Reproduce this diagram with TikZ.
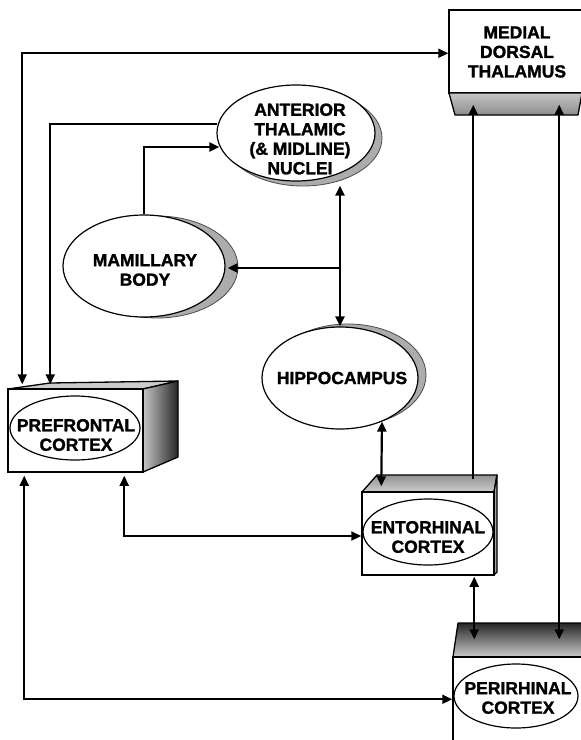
\documentclass[tikz,border=0pt]{standalone}
\usepackage{fontspec}
\setmainfont{Liberation Sans}[BoldFeatures={FakeBold=1.5}]
\usetikzlibrary{arrows.meta,shapes.geometric,calc}
\begin{document}
\begin{tikzpicture}[x=1pt,y=-1pt, >={Triangle[length=10pt,width=9pt]},
  lbl/.style={font=\bfseries\fontsize{17.5}{19.5}\selectfont, align=center, inner sep=0pt},
  oval/.style={ellipse, draw=black, line width=1.2pt, fill=white, inner sep=0pt},
  ovalshadow/.style={ellipse, draw=black!70, line width=0.8pt, fill=gray!65, inner sep=0pt},
  boxface/.style={rectangle, draw=black, line width=1.5pt, fill=white, inner sep=0pt},
  facedge/.style={draw=black, line width=1.3pt, line join=round},
  conn/.style={line width=2.2pt},
  uni/.style={conn,->},
  bi/.style={conn,<->}]
\useasboundingbox (0,0) rectangle (581,740);
\fill[white] (0,0) rectangle (581,740);
\clip (0,0) rectangle (581,740);

% medial dorsal thalamus
\node[boxface, minimum width=133pt, minimum height=83pt] (mdt) at (515.5,51.5) {};
\node[lbl] (mdtT) at (517,52) {MEDIAL\\DORSAL\\THALAMUS};
\path[facedge, top color=gray!45, bottom color=gray!90] (449,93) -- (582,93) -- (578,115) -- (455,115) -- cycle;

% prefrontal cortex
\path[facedge, fill=gray!40] (8,389) -- (50,383) -- (178,381) -- (143,389) -- cycle;
\path[facedge, left color=gray!45, right color=black!85] (143,389) -- (178,381) -- (178,457) -- (143,472) -- cycle;
\node[boxface, minimum width=135pt, minimum height=83pt] (pfc) at (75.5,430.5) {};
\node[oval, minimum width=130pt, minimum height=64pt] (pfcE) at (75,428) {};
\node[lbl] (pfcT) at (76,435) {PREFRONTAL\\CORTEX};

% entorhinal cortex
\path[facedge, top color=gray!85, bottom color=gray!40] (362,492) -- (377,475) -- (497,475) -- (494,492) -- cycle;
\path[facedge, fill=gray!70] (494,492) -- (497,475) -- (497,572) -- (494,575) -- cycle;
\node[boxface, minimum width=132pt, minimum height=83pt] (ent) at (428,533.5) {};
\node[oval, minimum width=130pt, minimum height=66pt] (entE) at (428,532) {};
\node[lbl] (entT) at (428,537) {ENTORHINAL\\CORTEX};

% perirhinal cortex
\path[facedge, top color=black!85, bottom color=gray!40] (453,657) -- (458,623) -- (585,623) -- (585,657) -- cycle;
\node[boxface, minimum width=132pt, minimum height=103pt] (per) at (519,708.5) {};
\node[oval, minimum width=124pt, minimum height=64pt] (perE) at (516,696) {};
\node[lbl] (perT) at (518,698) {PERIRHINAL\\CORTEX};

% anterior thalamic nuclei
\node[ovalshadow, minimum width=158pt, minimum height=96pt] (atnS) at (303,138) {};
\node[oval, minimum width=158pt, minimum height=96pt] (atn) at (296,133) {};
\node[lbl] (atnT) at (300,139) {ANTERIOR\\THALAMIC\\(\& MIDLINE)\\NUCLEI};

% mamillary body
\node[ovalshadow, minimum width=162pt, minimum height=102pt] (mamS) at (157,267) {};
\node[oval, minimum width=162pt, minimum height=102pt] (mam) at (144,266) {};
\node[lbl] (mamT) at (145,270) {MAMILLARY\\BODY};

% hippocampus
\node[ovalshadow, minimum width=156pt, minimum height=102pt] (hipS) at (348,375) {};
\node[oval, minimum width=156pt, minimum height=102pt] (hip) at (340,378) {};
\node[lbl] (hipT) at (342,378) {HIPPOCAMPUS};

% connectors
\draw[bi] ($(pfc.north west)+(15,-4)$) |- ($(mdt.north west)+(0,44)$);
\draw[uni] ($(atn.west)+(1,-9)$) -| ($(pfc.north west)+(43,-4)$);
\draw[uni] (mam.north) |- ($(atn.west)+(3,14)$);
\draw[bi] ($(hip.north |- atn.south)+(0,4)$) -- (hip.north);
\draw[uni] (hip.north |- 0,268) -- ($(mam.east)+(2,2)$);
\draw[bi] ($(pfc.south west)+(117,3)$) |- ($(ent.west)+(0,2.5)$);
\draw[bi] ($(hip.south)+(42,-8)$) -- ($(ent.north west)+(20,-5)$);
\draw[uni] ($(ent.north west)+(112,-12)$) -- ($(mdt.south west)+(25,11)$);
\draw[bi] ($(per.north west)+(107,-17)$) -- ($(mdt.south west)+(111,11)$);
\draw[bi] ($(ent.south west)+(113,1)$) -- ($(per.north west)+(22,-17)$);
\draw[bi] ($(pfc.south west)+(17,3)$) |- ($(per.north west)+(0,43)$);
\end{tikzpicture}
\end{document}
